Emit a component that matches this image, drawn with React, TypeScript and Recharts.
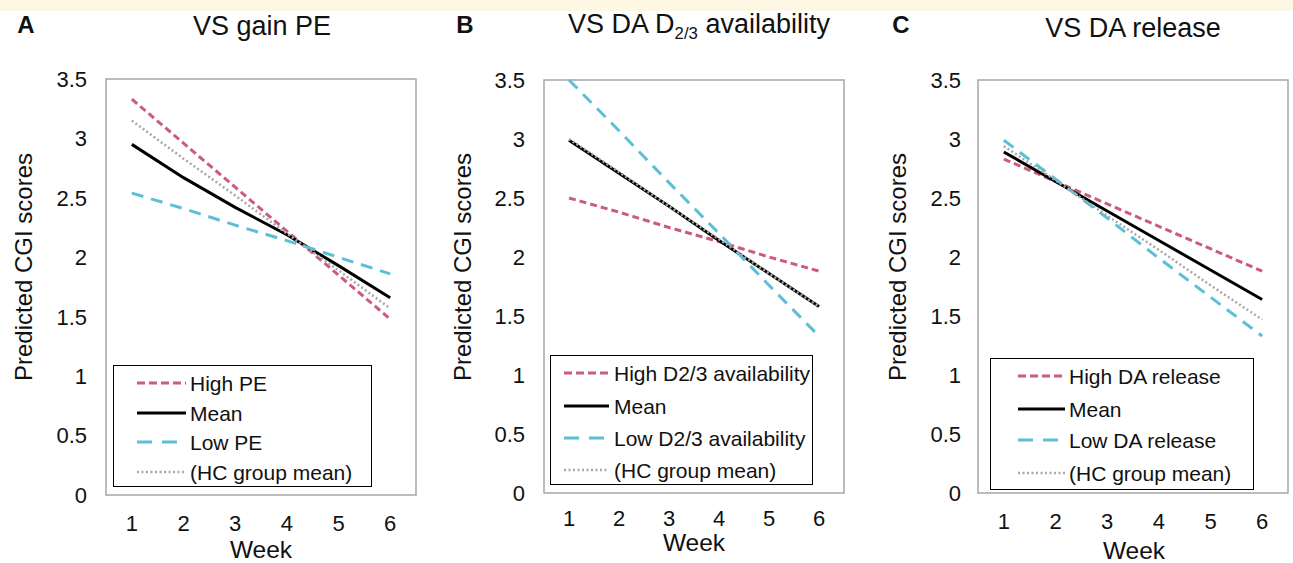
import React from "react";
import { LineChart, Line, XAxis, YAxis, ReferenceArea } from "recharts";

// shared axes
const weeks = [1, 2, 3, 4, 5, 6];
const yTicks = [0, 0.5, 1, 1.5, 2, 2.5, 3, 3.5];

// A: VS gain PE
const peHigh = [3.33, 2.96, 2.59, 2.22, 1.85, 1.48];
const peMean = [2.95, 2.67, 2.42, 2.19, 1.93, 1.66];
const peLow = [2.54, 2.41, 2.27, 2.14, 2.0, 1.86];
const peHc = [3.15, 2.83, 2.52, 2.2, 1.89, 1.57];

// B: VS DA D2/3 availability
const d23High = [2.5, 2.38, 2.25, 2.13, 2.0, 1.88];
const d23Mean = [2.99, 2.71, 2.43, 2.14, 1.86, 1.58];
const d23Low = [3.5, 3.07, 2.63, 2.2, 1.76, 1.33];
const d23Hc = [3.0, 2.72, 2.43, 2.15, 1.86, 1.58];

// C: VS DA release
const relHigh = [2.83, 2.64, 2.45, 2.26, 2.07, 1.88];
const relMean = [2.89, 2.64, 2.39, 2.14, 1.89, 1.64];
const relLow = [2.99, 2.66, 2.33, 1.99, 1.66, 1.33];
const relHc = [2.94, 2.65, 2.35, 2.06, 1.76, 1.47];

const FONT = '"Liberation Sans", Arial, Helvetica, sans-serif';
const TICK_SIZE = 22;

const STYLES = [
  { key: "high", stroke: "#cc5b80", dash: "7 4", legendDash: "8 4", width: 3 },
  { key: "mean", stroke: "#000000", dash: undefined, legendDash: undefined, width: 3 },
  { key: "low", stroke: "#5cbfd8", dash: "12 8", legendDash: "15 10", width: 3 },
  { key: "hc", stroke: "#a8a8a8", dash: "2 2.5", legendDash: "2 2.5", width: 2.5 },
];

type PanelCfg = {
  letter: string;
  title: React.ReactNode;
  names: string[];
  series: number[][];
  x: number;
  plotL: number;
  plotR: number;
  plotT: number;
  plotB: number;
  yGap: number;
  xGap: number;
  letterX: number;
  titleX: number;
  titleY: number;
  yLabelX: number;
  weekX: number;
  weekY: number;
  legend: { l: number; t: number; r: number; b: number; rows: number[]; sampleL: number; sampleR: number; textX: number };
};

const panels: PanelCfg[] = [
  {
    letter: "A",
    title: "VS gain PE",
    names: ["High PE", "Mean", "Low PE", "(HC group mean)"],
    series: [peHigh, peMean, peLow, peHc],
    x: 0, plotL: 106, plotR: 416, plotT: 79, plotB: 495, yGap: 19, xGap: 20,
    letterX: 26, titleX: 262, titleY: 26, yLabelX: 24, weekX: 261, weekY: 550,
    legend: { l: 113, t: 365, r: 372, b: 487, rows: [382, 411.5, 441, 470.5], sampleL: 136, sampleR: 185, textX: 189 },
  },
  {
    letter: "B",
    title: (
      <span>
        VS DA D<sub style={{ fontSize: "0.62em", verticalAlign: "-0.35em" }}>2/3</sub> availability
      </span>
    ),
    names: ["High D2/3 availability", "Mean", "Low D2/3 availability", "(HC group mean)"],
    series: [d23High, d23Mean, d23Low, d23Hc],
    x: 431, plotL: 544, plotR: 844, plotT: 80, plotB: 493, yGap: 19, xGap: 17,
    letterX: 465, titleX: 699, titleY: 27, yLabelX: 463, weekX: 694, weekY: 543,
    legend: { l: 550, t: 355, r: 813, b: 485, rows: [372, 404.5, 436.5, 469], sampleL: 563, sampleR: 608, textX: 613 },
  },
  {
    letter: "C",
    title: "VS DA release",
    names: ["High DA release", "Mean", "Low DA release", "(HC group mean)"],
    series: [relHigh, relMean, relLow, relHc],
    x: 862, plotL: 978, plotR: 1288, plotT: 80, plotB: 493, yGap: 17, xGap: 20,
    letterX: 901, titleX: 1133, titleY: 28, yLabelX: 898, weekX: 1134, weekY: 551,
    legend: { l: 990, t: 358, r: 1254, b: 490, rows: [374.5, 407.5, 439, 471.5], sampleL: 1017, sampleR: 1064, textX: 1068 },
  },
];

function centered(x: number, y: number, extra: React.CSSProperties = {}): React.CSSProperties {
  return {
    position: "absolute",
    left: x,
    top: y,
    transform: "translate(-50%, -50%)",
    whiteSpace: "nowrap",
    lineHeight: 1,
    ...extra,
  };
}

function XTick(props: any) {
  const { x, y, payload } = props;
  return (
    <text x={x} y={y} dy="0.71em" textAnchor="middle" fill="#111" fontSize={TICK_SIZE}>
      {payload.value}
    </text>
  );
}

function YTick(props: any) {
  const { x, y, payload } = props;
  return (
    <text x={x} y={y} dy="0.355em" textAnchor="end" fill="#111" fontSize={TICK_SIZE}>
      {payload.value}
    </text>
  );
}

function Panel({ p }: { p: PanelCfg }) {
  const data = weeks.map((w, i) => {
    const row: Record<string, number> = { week: w };
    STYLES.forEach((s, k) => (row[s.key] = p.series[k][i]));
    return row;
  });
  const lg = p.legend;
  return (
    <>
      <div style={{ position: "absolute", left: p.x, top: 0 }}>
        <LineChart
          width={p.plotR - p.x + 4}
          height={563}
          data={data}
          margin={{ top: p.plotT, right: 4, left: 0, bottom: 0 }}
        >
          <XAxis
            dataKey="week"
            type="number"
            domain={[0.5, 6.5]}
            ticks={weeks}
            axisLine={false}
            tickLine={false}
            tickSize={0}
            tickMargin={p.xGap}
            height={563 - p.plotB}
            tick={<XTick />}
          />
          <YAxis
            type="number"
            domain={[0, 3.5]}
            ticks={yTicks}
            axisLine={false}
            tickLine={false}
            tickSize={0}
            tickMargin={p.yGap}
            width={p.plotL - p.x}
            tick={<YTick />}
          />
          <ReferenceArea x1={0.5} x2={6.5} y1={0} y2={3.5} fill="none" stroke="#a6a6a6" strokeWidth={1.5} />
          {STYLES.map((s) => (
            <Line
              key={s.key}
              dataKey={s.key}
              type="linear"
              stroke={s.stroke}
              strokeWidth={s.width}
              strokeDasharray={s.dash}
              dot={false}
              activeDot={false}
              isAnimationActive={false}
            />
          ))}
        </LineChart>
      </div>

      <div style={centered(p.letterX, 25, { fontSize: 24, fontWeight: 700 })}>{p.letter}</div>
      <div style={centered(p.titleX, p.titleY, { fontSize: 27 })}>{p.title}</div>
      <div style={centered(p.yLabelX, 267, { fontSize: 24, transform: "translate(-50%, -50%) rotate(-90deg)" })}>
        Predicted CGI scores
      </div>
      <div style={centered(p.weekX, p.weekY, { fontSize: 24.5 })}>Week</div>

      <div
        style={{
          position: "absolute",
          left: lg.l,
          top: lg.t,
          width: lg.r - lg.l,
          height: lg.b - lg.t,
          border: "1.5px solid #000",
          boxSizing: "border-box",
          background: "#fff",
        }}
      >
        {STYLES.map((s, k) => (
          <React.Fragment key={s.key}>
            <svg
              width={lg.sampleR - lg.sampleL}
              height={8}
              style={{ position: "absolute", left: lg.sampleL - lg.l, top: lg.rows[k] - lg.t - 4 }}
            >
              <line
                x1={0}
                x2={lg.sampleR - lg.sampleL}
                y1={4}
                y2={4}
                stroke={s.stroke}
                strokeWidth={s.width}
                strokeDasharray={s.legendDash}
              />
            </svg>
            <div
              style={{
                position: "absolute",
                left: lg.textX - lg.l,
                top: lg.rows[k] - lg.t,
                transform: "translateY(-50%)",
                fontSize: 21,
                lineHeight: 1,
                whiteSpace: "nowrap",
              }}
            >
              {p.names[k]}
            </div>
          </React.Fragment>
        ))}
      </div>
    </>
  );
}

export default function App() {
  return (
    <div
      style={{
        position: "absolute",
        left: 0,
        top: 0,
        width: 1293,
        height: 563,
        background: "#fff",
        fontFamily: FONT,
        color: "#111",
        overflow: "hidden",
      }}
    >
      <div style={{ position: "absolute", left: 0, top: 0, width: 1293, height: 11, background: "#fdf7e4" }} />
      {panels.map((p) => (
        <Panel key={p.letter} p={p} />
      ))}
    </div>
  );
}
